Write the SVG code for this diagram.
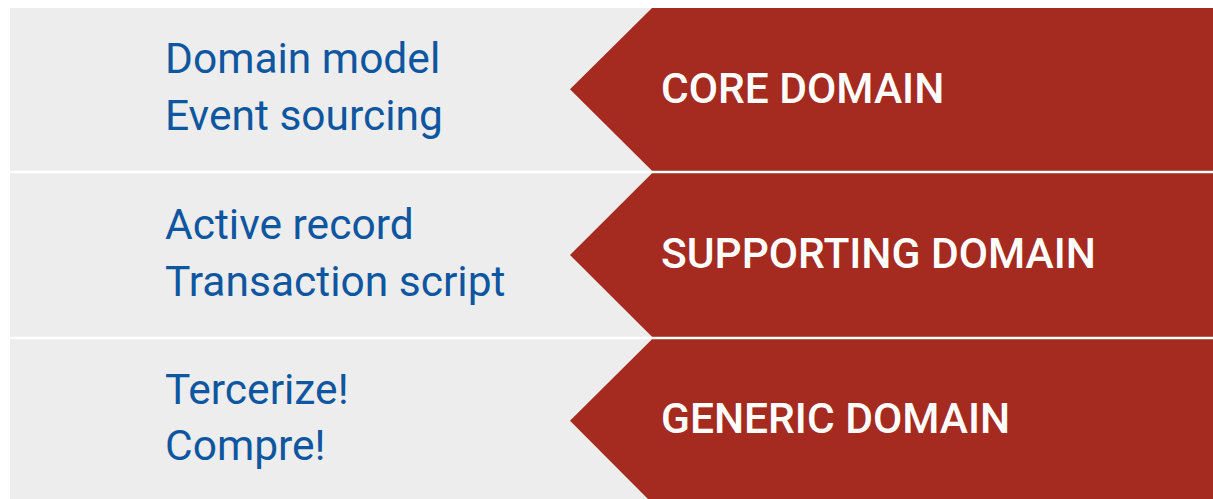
<svg xmlns="http://www.w3.org/2000/svg" width="1213" height="499" viewBox="0 0 1213 499">
<style>
.bg{fill:#ededed}
.tag{fill:#a52a1f}
.l{font-family:Roboto,"Liberation Sans",sans-serif;font-size:42.5px;fill:#0e56a0}
.t{font-family:Roboto,"Liberation Sans",sans-serif;font-size:42.5px;fill:#ffffff;font-weight:500}
</style>
<rect width="1213" height="499" fill="#ffffff"/>
<g id="core">
<rect class="bg" x="10" y="8" width="1203" height="162.7"/>
<polygon class="tag" points="652,8 1213,8 1213,170.7 652,170.7 570,89.3"/>
<text class="l" x="165" y="73.3">Domain model</text>
<text class="l" x="165" y="130">Event sourcing</text>
<text class="t" x="661" y="102.5">CORE DOMAIN</text>
</g>
<g id="supporting">
<rect class="bg" x="10" y="173.3" width="1203" height="163.4"/>
<polygon class="tag" points="652,173.3 1213,173.3 1213,336.7 652,336.7 570,255"/>
<text class="l" x="165" y="239">Active record</text>
<text class="l" x="165" y="295.5">Transaction script</text>
<text class="t" x="661" y="268.3">SUPPORTING DOMAIN</text>
</g>
<g id="generic">
<rect class="bg" x="10" y="339.3" width="1203" height="159.7"/>
<polygon class="tag" points="652,339.3 1213,339.3 1213,499 648,499 570,420.7"/>
<text class="l" x="165" y="404">Tercerize!</text>
<text class="l" x="165" y="460">Compre!</text>
<text class="t" x="661" y="433.3">GENERIC DOMAIN</text>
</g>
<g id="connectors"/>
</svg>
